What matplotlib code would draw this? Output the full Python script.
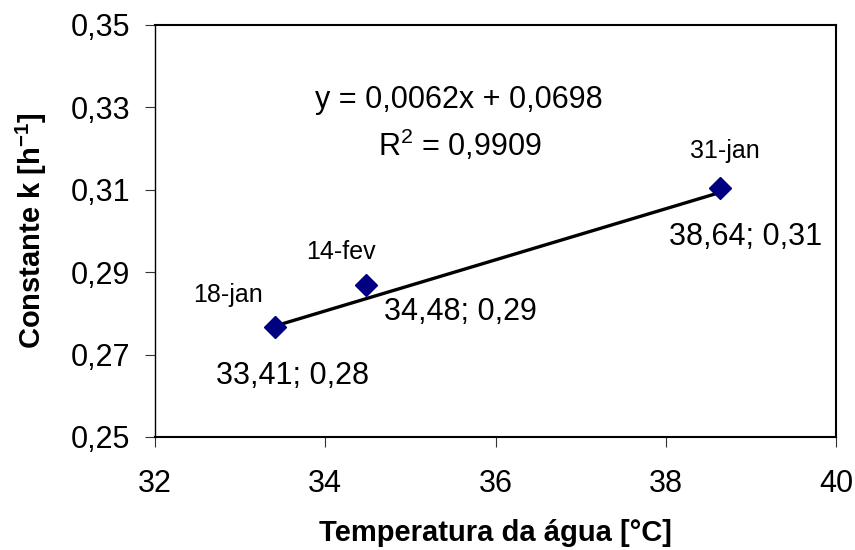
import numpy as np
import matplotlib
matplotlib.use("Agg")
import matplotlib.pyplot as plt

plt.rcParams['font.family'] = ['Liberation Sans', 'DejaVu Sans']
plt.rcParams['mathtext.fontset'] = 'custom'
plt.rcParams['mathtext.rm'] = 'Liberation Sans'
plt.rcParams['mathtext.it'] = 'Liberation Sans:italic'
plt.rcParams['mathtext.bf'] = 'Liberation Sans:bold'

# dados medidos
datas = ['18-jan', '14-fev', '31-jan']
temperatura = [33.41, 34.48, 38.64]
constante_k = [0.2767, 0.2869, 0.3105]

# reta de tendencia (linear)
inclinacao = 0.0062
intercepto = 0.0698
r2 = 0.9909

# deslocamento dos rotulos (px) em relacao ao ponto
desl_nome = [(-47, 32), (-25, 33), (5, 37)]
desl_valor = [(17, -49), (94, -27), (25, -49)]


def virgula(v, casas):
    return f"{v:.{casas}f}".replace('.', ',')


fig = plt.figure(figsize=(8.55, 5.5), dpi=100)
ax = fig.add_axes([155 / 855, 1 - 437 / 550, 681 / 855, 412 / 550])

xs = np.array([min(temperatura), max(temperatura)])
ax.plot(xs, inclinacao * xs + intercepto, color='black', lw=2.4, zorder=2)
ax.plot(temperatura, constante_k, linestyle='none', marker='D', markersize=11,
        color='#000080', zorder=3, clip_on=False)

px = 0.72  # px -> pt
for i in range(len(datas)):
    t, k = temperatura[i], constante_k[i]
    dx, dy = desl_nome[i]
    ax.annotate(datas[i], (t, k), xytext=(dx * px, dy * px), textcoords='offset points',
                ha='center', va='center', fontsize=18)
    dx, dy = desl_valor[i]
    ax.annotate(f"{virgula(t, 2)}; {virgula(k, 2)}", (t, k), xytext=(dx * px, dy * px),
                textcoords='offset points', ha='center', va='center', fontsize=22)

ax.text(35.57, 0.3318, f"y = {virgula(inclinacao, 4)}x + {virgula(intercepto, 4)}",
        ha='center', va='center', fontsize=22)
ax.text(35.58, 0.3207, f"R$^{{2}}$ = {virgula(r2, 4)}", ha='center', va='center', fontsize=22)

ax.set_xlim(32, 40)
ax.set_ylim(0.25, 0.35)
ax.set_xticks(np.arange(32, 41, 2))
ax.set_yticks(np.arange(0.25, 0.351, 0.02))
ax.set_xticklabels([str(v) for v in range(32, 41, 2)])
ax.set_yticklabels([virgula(v, 2) for v in np.arange(0.25, 0.351, 0.02)])
ax.tick_params(direction='out', length=7, width=0.8, color='#333333',
               labelsize=22, pad=11)
ax.tick_params(axis='x', pad=16)

for lado in ['top', 'right', 'bottom']:
    ax.spines[lado].set_linewidth(1.5)
ax.spines['left'].set_linewidth(1.0)

ax.set_xlabel('Temperatura da água [°C]', fontsize=21, fontweight='bold')
ax.set_ylabel('Constante k [h$^{\\mathbf{-1}}$]', fontsize=21, fontweight='bold')
ax.xaxis.set_label_coords(0.5, -0.2)
ax.yaxis.set_label_coords(-0.155, 0.5)

fig.savefig('out.png', dpi=100, facecolor='white')
